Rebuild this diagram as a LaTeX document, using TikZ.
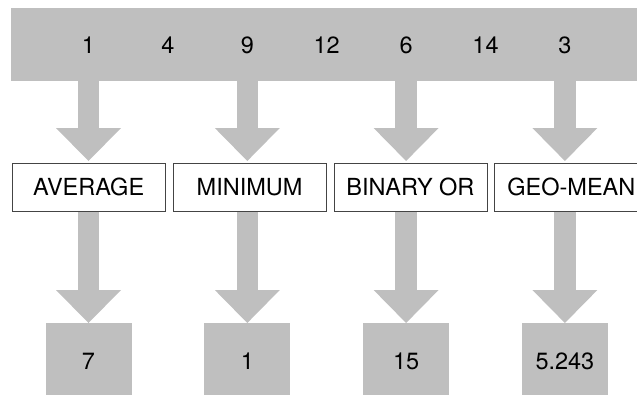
\documentclass[tikz,border=0pt]{standalone}
\usepackage{fontspec}
\setmainfont{TeX Gyre Heros}
\usetikzlibrary{positioning,arrows.meta}
\definecolor{barc}{HTML}{BFBFBF}
\definecolor{edge}{HTML}{444444}
\tikzset{
  bar/.style    = {fill=barc, minimum width=640pt, minimum height=73pt,
                   inner sep=0pt, anchor=north west},
  num/.style    = {font=\fontsize{23.5}{26}\selectfont, inner sep=0pt},
  opbox/.style  = {draw=edge, line width=0.9pt, fill=white,
                   minimum width=153pt, minimum height=48.5pt, inner sep=0pt,
                   font=\fontsize{23.5}{26}\selectfont},
  resbox/.style = {fill=barc, minimum width=86pt, minimum height=76pt,
                   inner sep=0pt, font=\fontsize{23.5}{26}\selectfont},
  flow/.style   = {draw=barc, line width=21.6pt,
                   -{Triangle[length=33pt, width=65pt, line width=0pt]}},
}
\begin{document}
\begin{tikzpicture}
  \useasboundingbox (0pt,0pt) rectangle (637pt,-394pt);
  \clip (0pt,0pt) rectangle (637pt,-394pt);

  \node[bar] (bar) at (11pt,-7.5pt) {};
  \foreach \v [count=\i] in {1,4,9,12,6,14,3}
    \node[num] (n\i) at ({88.5pt+79.4pt*(\i-1)},-45pt) {\v};

  \node[opbox, anchor=north west] (op1) at (11.7pt,-162.5pt) {AVERAGE};
  \node[opbox] (op2) [right=7pt of op1] {MINIMUM};
  \node[opbox] (op3) [right=7pt of op2] {BINARY OR};
  \node[opbox] (op4) [right=7pt of op3] {GEO-MEAN};

  % results, top edge at 323pt
  \foreach \r [count=\i] in {7,1,15,5.243}
    \node[resbox, anchor=north] (res\i) at ({88.5pt+158.8pt*(\i-1)},-323pt) {\r};

  \foreach \i in {1,...,4} {
    \draw[flow, shorten >=1.5pt] (bar.south -| res\i) -- (op\i.north -| res\i);
    \draw[flow] (op\i.south -| res\i) -- (res\i.north);
  }
\end{tikzpicture}
\end{document}
